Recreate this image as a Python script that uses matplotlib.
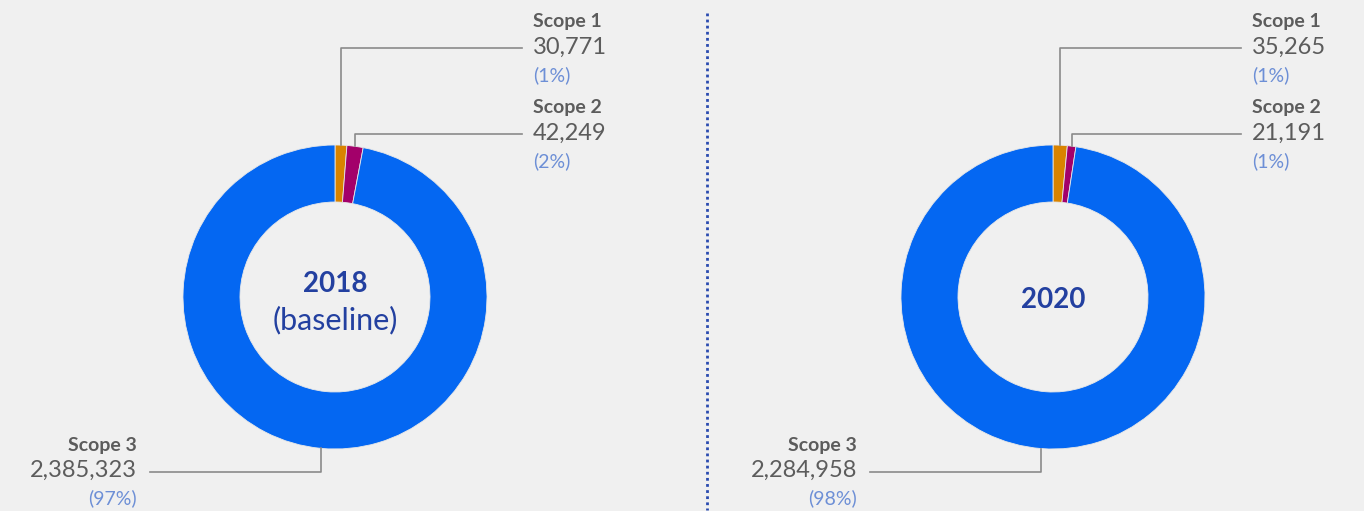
import matplotlib.pyplot as plt
import numpy as np

# data
scopes = ["Scope 1", "Scope 2", "Scope 3"]
years = ["2018", "2020"]
subtitles = ["(baseline)", ""]
values_2018 = [30771, 42249, 2385323]
values_2020 = [35265, 21191, 2284958]
pct_2018 = ["(1%)", "(2%)", "(97%)"]
pct_2020 = ["(1%)", "(1%)", "(98%)"]

colors = ["#d98300", "#a3006a", "#0467f2"]
bg = "#f0f0f0"
txt_gray = "#5c5c5c"
pct_col = "#6d8fd6"
navy = "#2340a0"
line_col = "#8a8a8a"
plt.rcParams['font.family'] = ['Lato', 'DejaVu Sans']

W, H = 1364, 511
fig = plt.figure(figsize=(W / 100, H / 100), dpi=100, facecolor=bg)

# overlay axes in pixel coordinates (y down)
ov = fig.add_axes([0, 0, 1, 1], zorder=5)
ov.set_xlim(0, W)
ov.set_ylim(H, 0)
ov.axis("off")
ov.patch.set_alpha(0)

# dotted divider
ov.plot([707, 707], [13, 510], color="#2a4bb0", lw=2, ls=(0, (1, 1.2)))

R = 152
centers = [(335, 297), (1053, 297)]
text_right = [533, 1252]
text_left3 = [137, 857]

for k, (vals, pcts) in enumerate([(values_2018, pct_2018), (values_2020, pct_2020)]):
    cx, cy = centers[k]
    pa = fig.add_axes([(cx - R) / W, (H - cy - R) / H, 2 * R / W, 2 * R / H])
    pa.pie(vals, colors=colors, startangle=90, counterclock=False, radius=1,
           wedgeprops=dict(width=0.375, edgecolor="#e8e8e8", linewidth=0.6))
    pa.set_xlim(-1, 1)
    pa.set_ylim(-1, 1)
    pa.set_aspect("equal")
    pa.axis("off")

    if subtitles[k]:
        pa.text(0, 0.085, years[k], ha="center", va="center",
                fontsize=20, fontweight="bold", color=navy)
        pa.text(0, -0.15, subtitles[k], ha="center", va="center", fontsize=22, color=navy)
    else:
        pa.text(0, -0.02, years[k], ha="center", va="center",
                fontsize=20, fontweight="bold", color=navy)

    # leader lines from slice midpoints
    frac = np.cumsum([0] + vals) / sum(vals)
    mids = [90 - 360 * (frac[i] + frac[i + 1]) / 2 for i in range(3)]
    lx = [cx + R * np.cos(np.radians(a)) for a in mids]
    ly = [cy - R * np.sin(np.radians(a)) for a in mids]

    hy = [48, 134]
    for i in range(2):
        ov.plot([lx[i], lx[i], text_right[k] - 11], [ly[i], hy[i], hy[i]], color=line_col, lw=1.2)
        ov.text(text_right[k], hy[i] - 27, scopes[i], ha="left", va="center",
                fontsize=14, fontweight="bold", color=txt_gray)
        ov.text(text_right[k], hy[i] - 1, f"{vals[i]:,}", ha="left", va="center",
                fontsize=17, color=txt_gray)
        ov.text(text_right[k], hy[i] + 27, pcts[i], ha="left", va="center",
                fontsize=14, color=pct_col)

    ov.plot([lx[2], lx[2], text_left3[k] + 13], [ly[2], 472, 472], color=line_col, lw=1.2)
    ov.text(text_left3[k], 445, scopes[2], ha="right", va="center",
            fontsize=14, fontweight="bold", color=txt_gray)
    ov.text(text_left3[k], 470, f"{vals[2]:,}", ha="right", va="center",
            fontsize=17, color=txt_gray)
    ov.text(text_left3[k], 498, pcts[2], ha="right", va="center",
            fontsize=14, color=pct_col)

fig.savefig("out.png", dpi=100, facecolor=bg)
